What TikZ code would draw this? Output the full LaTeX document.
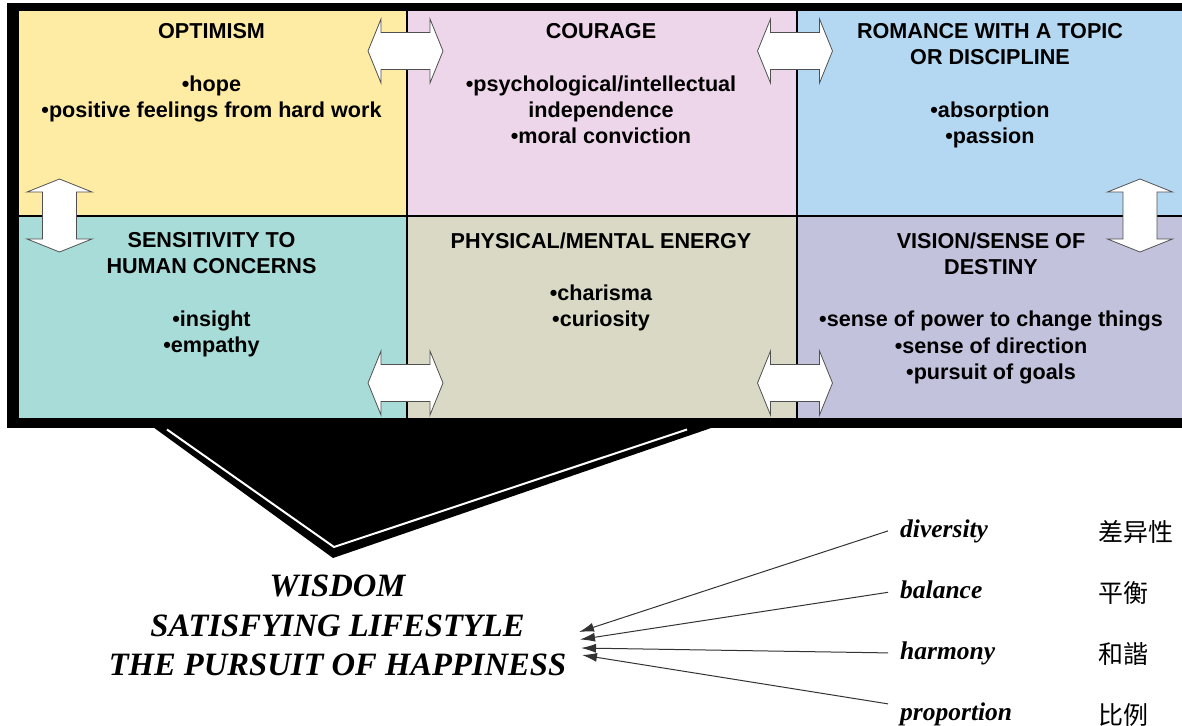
\documentclass[tikz,border=0pt]{standalone}
\usepackage{fontspec}
\setmainfont{Liberation Serif}
\newfontfamily\lsans{Liberation Sans}
\newfontfamily\cjk{Noto Sans CJK SC}
\usetikzlibrary{arrows.meta}
\definecolor{cyellow}{RGB}{254,236,164}
\definecolor{cpink}{RGB}{237,214,233}
\definecolor{cblue}{RGB}{180,216,242}
\definecolor{cteal}{RGB}{168,220,216}
\definecolor{cbeige}{RGB}{218,217,198}
\definecolor{clav}{RGB}{194,194,220}
\definecolor{arrowedge}{RGB}{80,80,80}
\tikzset{
  cell/.style={draw=black, line width=1.5pt, inner sep=0pt, anchor=north west},
  celltext/.style={font=\lsans\bfseries\fontsize{21.6}{26.3}\selectfont, align=center, anchor=north, inner sep=0pt},
  dbl/.style={fill=white, draw=arrowedge, line width=0.8pt, line join=miter},
  hdarrow/.pic={\path[dbl] (-37.5,0) -- (-24.5,-32) -- (-24.5,-18.5) -- (24.5,-18.5) -- (24.5,-32) -- (37.5,0) -- (24.5,32) -- (24.5,18.5) -- (-24.5,18.5) -- (-24.5,32) -- cycle;},
  vdarrow/.pic={\path[dbl] (0,-36.5) -- (32.5,-23.5) -- (17,-23.5) -- (17,23.5) -- (32.5,23.5) -- (0,36.5) -- (-32.5,23.5) -- (-17,23.5) -- (-17,-23.5) -- (-32.5,-23.5) -- cycle;},
  word/.style={font=\bfseries\itshape\fontsize{25.5}{30}\selectfont, anchor=base west, inner xsep=12pt, inner ysep=0pt},
  zh/.style={font=\cjk\fontsize{25}{30}\selectfont, anchor=base west, inner sep=0pt},
  conn/.style={draw=black!80, line width=1pt, -{Latex[length=15pt,width=9pt]}},
  bigtext/.style={font=\bfseries\itshape\fontsize{32.6}{39.5}\selectfont, align=center, anchor=north, inner sep=0pt}
}
\begin{document}
\begin{tikzpicture}[x=1pt,y=-1pt]
\useasboundingbox (0,0) rectangle (1182,725);
\clip (0,0) rectangle (1182,725);
% frame
\fill[black] (7,3) rectangle (1200,428);
% funnel
\fill[black] (153,427) -- (333,558) -- (714,427) -- cycle;
\draw[white, line width=2pt] (167,429.5) -- (334,547) -- (687,429.5);
% cells
\node[cell, fill=cyellow, minimum width=389pt, minimum height=205pt] (c1) at (17,10) {};
\node[cell, fill=cpink, minimum width=390pt, minimum height=205pt] (c2) at (406,10) {};
\node[cell, fill=cblue, minimum width=394pt, minimum height=205pt] (c3) at (796,10) {};
\node[cell, fill=cteal, minimum width=389pt, minimum height=203pt] (c4) at (17,215) {};
\node[cell, fill=cbeige, minimum width=390pt, minimum height=203pt] (c5) at (406,215) {};
\node[cell, fill=clav, minimum width=394pt, minimum height=203pt] (c6) at (796,215) {};
% cell texts
\node[celltext] (t1) at (211.5,23.2) {OPTIMISM\\[26.3pt]•hope\\•positive feelings from hard work};
\node[celltext] (t2) at (601,23.2) {COURAGE\\[26.3pt]•psychological/intellectual\\independence\\•moral conviction};
\node[celltext] (t3) at (990,23.2) {ROMANCE WITH A TOPIC\\OR DISCIPLINE\\[26.3pt]•absorption\\•passion};
\node[celltext] (t4) at (211.5,232.2) {SENSITIVITY TO\\HUMAN CONCERNS\\[26.3pt]•insight\\•empathy};
\node[celltext] (t5) at (601,232.2) {PHYSICAL/MENTAL ENERGY\\[26.3pt]•charisma\\•curiosity};
\node[celltext] (t6) at (991,232.2) {VISION/SENSE OF\\DESTINY\\[26.3pt]•sense of power to change things\\•sense of direction\\•pursuit of goals};
% double arrows
\pic at (405.5,51) {hdarrow};
\pic at (795,51) {hdarrow};
\pic at (405.5,383) {hdarrow};
\pic at (795,383) {hdarrow};
\pic at (59.5,215.5) {vdarrow};
\pic at (1140,215.5) {vdarrow};
% bottom text
\node[bigtext] (wisdom) at (337.5,575) {WISDOM\\SATISFYING LIFESTYLE\\THE PURSUIT OF HAPPINESS};
\node[word] (wdiv) at (888,537) {diversity};
\node[word] (wbal) at (888,598) {balance};
\node[word] (whar) at (888,659) {harmony};
\node[word] (wpro) at (888,720) {proportion};
\node[zh] (zdiv) at (1098,541) {差异性};
\node[zh] (zbal) at (1098,602) {平衡};
\node[zh] (zhar) at (1098,663) {和諧};
\node[zh] (zpro) at (1098,724) {比例};
\coordinate (a1) at (579,632);
\coordinate (a2) at (580,639.5);
\coordinate (a3) at (581,648);
\coordinate (a4) at (582,655);
\draw[conn] (wdiv.west) -- (a1);
\draw[conn] ([yshift=-3pt]wbal.west) -- (a2);
\draw[conn] (whar.west) -- (a3);
\draw[conn] ([yshift=10pt]wpro.west) -- (a4);
\end{tikzpicture}
\end{document}
